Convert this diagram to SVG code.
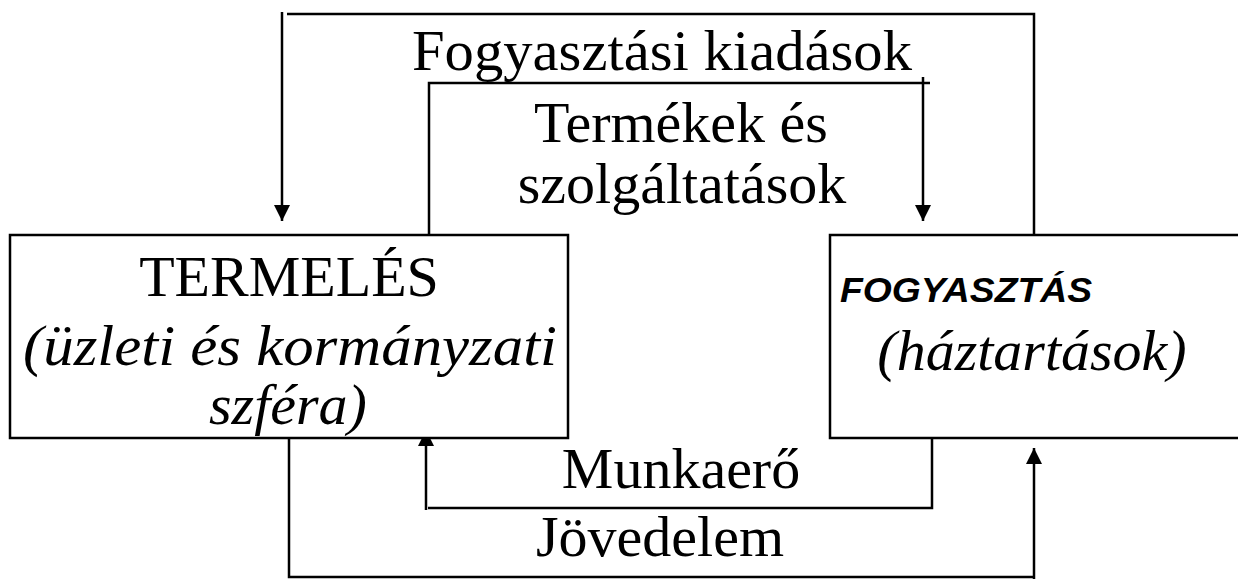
<svg xmlns="http://www.w3.org/2000/svg" width="1238" height="583" viewBox="0 0 1238 583">
  <style>
    .line { fill: none; stroke: #000; stroke-width: 2.5; }
    .box { fill: #fff; stroke: #000; stroke-width: 2.5; }
    .serif { font-family: "Liberation Serif", "Times New Roman", serif; font-size: 58px; fill: #000; }
    .it { font-style: italic; }
    .sans { font-family: "Liberation Sans", Arial, sans-serif; font-weight: bold; font-style: italic; font-size: 35px; fill: #000; }
  </style>
  <defs>
    <marker id="arrow" viewBox="0 0 10 10" refX="10" refY="5" markerWidth="16" markerHeight="16" markerUnits="userSpaceOnUse" orient="auto">
      <path d="M0,0 L10,5 L0,10 Z" fill="#000"/>
    </marker>
  </defs>

  <!-- flows between the two sectors -->
  <g id="connectors">
    <!-- consumer spending: households back to production -->
    <path class="line" d="M1034,235 V14 H287"/>
    <path class="line" d="M282,12 V221" marker-end="url(#arrow)"/>
    <!-- goods and services: production to households -->
    <path class="line" d="M429,235 V83 H930"/>
    <path class="line" d="M923,77 V221" marker-end="url(#arrow)"/>
    <!-- labour: households to production -->
    <path class="line" d="M932,438 V508 H428"/>
    <path class="line" d="M426,510 V430" marker-end="url(#arrow)"/>
    <!-- income: production to households -->
    <path class="line" d="M289,438 V577 H1034"/>
    <path class="line" d="M1034,579 V448" marker-end="url(#arrow)"/>
  </g>

  <g id="flow-labels">
    <text class="serif" x="662" y="70" textLength="500" lengthAdjust="spacingAndGlyphs" text-anchor="middle">Fogyasztási kiadások</text>
    <text class="serif" x="681" y="142" text-anchor="middle">Termékek és</text>
    <text class="serif" x="682" y="203" text-anchor="middle">szolgáltatások</text>
    <text class="serif" x="681" y="488" text-anchor="middle">Munkaerő</text>
    <text class="serif" x="660" y="556" text-anchor="middle">Jövedelem</text>
  </g>

  <g id="termeles">
    <rect class="box" x="10" y="235" width="558" height="203"/>
    <text class="serif" x="289" y="296" text-anchor="middle">TERMELÉS</text>
    <text class="serif it" x="290" y="365" textLength="534" lengthAdjust="spacingAndGlyphs" text-anchor="middle">(üzleti és kormányzati</text>
    <text class="serif it" x="288" y="424" text-anchor="middle">szféra)</text>
  </g>

  <g id="fogyasztas">
    <path class="box" d="M1245,235 H830 V438 H1245"/>
    <text class="sans" x="840" y="302" textLength="252" lengthAdjust="spacingAndGlyphs">FOGYASZTÁS</text>
    <text class="serif it" x="1032" y="370" text-anchor="middle">(háztartások)</text>
  </g>
</svg>
